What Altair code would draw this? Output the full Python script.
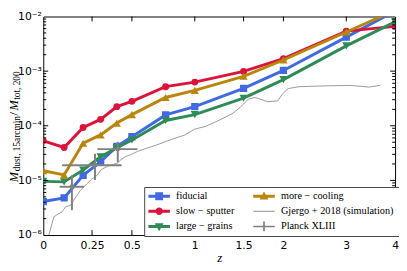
import altair as alt
import pandas as pd

# ---------------- data ----------------
z = [0, 0.1, 0.2, 0.3, 0.4, 0.5, 0.75, 1, 1.5, 2, 3, 4]
fiducial = [4.1e-6, 4.8e-6, 1.24e-5, 2.2e-5, 4.2e-5, 6.3e-5, 1.58e-4, 2.24e-4, 4.85e-4, 1.03e-3, 4.2e-3, 1.26e-2]
slow_sputter = [5.3e-5, 4.0e-5, 9.3e-5, 1.31e-4, 2.24e-4, 2.8e-4, 5.2e-4, 6.3e-4, 9.9e-4, 1.69e-3, 5.4e-3, 6.6e-3]
large_grains = [9.6e-6, 9.4e-6, 1.55e-5, 2.7e-5, 3.95e-5, 5.5e-5, 1.25e-4, 1.6e-4, 3.2e-4, 7.0e-4, 2.9e-3, 8.0e-3]
more_cooling = [1.5e-5, 1.26e-5, 4.8e-5, 6.8e-5, 1.12e-4, 1.6e-4, 3.3e-4, 4.45e-4, 8.05e-4, 1.6e-3, 5.2e-3, 1.3e-2]

gj_z = [0.024, 0.05, 0.074, 0.09, 0.107, 0.132, 0.149, 0.184, 0.22, 0.247, 0.276, 0.305,
        0.344, 0.375, 0.406, 0.427, 0.459, 0.492, 0.538, 0.608, 0.682, 0.785, 0.91, 0.997,
        1.105, 1.234, 1.372, 1.462, 1.556, 1.633, 1.673, 1.795, 1.924, 1.99, 2.067, 2.222,
        2.686, 3.068, 3.444, 3.669]
gj_v = [9.5e-7, 2.16e-6, 2.48e-6, 2.66e-6, 3.27e-6, 3.5e-6, 4.3e-6, 6.5e-6, 8.6e-6, 1.05e-5,
        1.21e-5, 1.59e-5, 1.82e-5, 1.95e-5, 2.1e-5, 2.4e-5, 2.75e-5, 2.96e-5, 3.39e-5, 3.9e-5,
        4.47e-5, 5.5e-5, 6.76e-5, 8.65e-5, 9.8e-5, 1.26e-4, 1.66e-4, 2.17e-4, 3.08e-4, 3.29e-4,
        3.16e-4, 2.75e-4, 2.86e-4, 3.9e-4, 4.8e-4, 5.2e-4, 5.4e-4, 5.48e-4, 5.12e-4, 5.48e-4]

pl_z = [0.14, 0.267, 0.406]
pl_zlo = [0.078, 0.09, 0.281]
pl_zhi = [0.205, 0.431, 0.538]
pl_v = [7.65e-6, 1.9e-5, 3.74e-5]
pl_vlo = [2.85e-6, 1.02e-5, 2.15e-5]
pl_vhi = [1.24e-5, 3.08e-5, 5.1e-5]

series_names = ["fiducial", "slow − sputter", "large − grains", "more − cooling"]
series_values = [fiducial, slow_sputter, large_grains, more_cooling]
series_colors = ["#4169E1", "#DC143C", "#2E8B57", "#B8860B"]
series_shapes = ["square", "circle", "triangle-down", "triangle-up"]
series_sizes = [55, 50, 70, 70]

gj_name = "Gjergo +  2018 (simulation)"
pl_name = "Planck XLIII"
gj_color = "#9a9a9a"
pl_color = "#808080"

x_tick_z = [0.25, 0.5, 1, 1.5, 2, 3]
x_label_z = [0, 0.25, 0.5, 1, 1.5, 2, 3, 4]
y_major = [1e-6, 1e-5, 1e-4, 1e-3, 1e-2]

# ---------------- scales & axes ----------------
W, H = 359, 223
xscale = alt.Scale(type="log", domain=[1, 5], nice=False)
yscale = alt.Scale(type="log", domain=[1e-6, 1e-2], nice=False)
xaxis = alt.Axis(values=[1 + v for v in x_label_z], labelExpr="format(datum.value - 1, '.2~f')",
                 ticks=False, domain=False, grid=False, labelOverlap=False, labelFlush=False,
                 labelBound=False, labelFont="DejaVu Sans", labelFontSize=11, labelColor="black",
                 labelPadding=5, title="z", titleFont="Liberation Serif", titleFontStyle="italic",
                 titleFontWeight="normal", titleFontSize=13, titlePadding=1, titleColor="black")
yaxis = alt.Axis(values=y_major,
                 labelExpr="'10' + (datum.value < 5e-6 ? '⁻⁶' : datum.value < 5e-5 ? '⁻⁵' : datum.value < 5e-4 ? '⁻⁴' : datum.value < 5e-3 ? '⁻³' : '⁻²')",
                 ticks=False, domain=False, grid=False, labelOverlap=False, labelFlush=False,
                 labelBound=False, labelFont="DejaVu Sans", labelFontSize=11, labelColor="black",
                 labelPadding=2, title=None)

X = lambda f="zp1": alt.X(f + ":Q", scale=xscale, axis=xaxis)
Y = lambda f="value": alt.Y(f + ":Q", scale=yscale, axis=yaxis)

layers = []

# model series: line then markers, in plotting order
for name, vals, col, shp, sz in zip(series_names, series_values, series_colors, series_shapes, series_sizes):
    df = pd.DataFrame({"zp1": [1 + v for v in z], "value": vals, "series": name})
    base = alt.Chart(df)
    layers.append(base.mark_line(strokeWidth=3, clip=True, color=col).encode(x=X(), y=Y(), order="zp1:Q"))
    layers.append(base.mark_point(filled=True, clip=True, opacity=1, color=col, shape=shp, size=sz)
                  .encode(x=X(), y=Y()))

# Gjergo+2018 simulation
gdf = pd.DataFrame({"zp1": [1 + v for v in gj_z], "value": gj_v})
layers.append(alt.Chart(gdf).mark_line(strokeWidth=1, clip=True, color=gj_color)
              .encode(x=X(), y=Y(), order="zp1:Q"))

# Planck XLIII
pdf = pd.DataFrame({"zp1": [1 + v for v in pl_z], "zlo": [1 + v for v in pl_zlo],
                    "zhi": [1 + v for v in pl_zhi], "value": pl_v, "vlo": pl_vlo, "vhi": pl_vhi})
pb = alt.Chart(pdf)
layers.append(pb.mark_rule(strokeWidth=2, color=pl_color).encode(x=X("zlo"), x2="zhi:Q", y=Y()))
layers.append(pb.mark_rule(strokeWidth=2, color=pl_color).encode(x=X(), y=Y("vlo"), y2="vhi:Q"))
layers.append(pb.mark_point(filled=True, opacity=1, color=pl_color, shape="circle", size=25)
              .encode(x=X(), y=Y()))

# ---------------- inward ticks ----------------
minor = [k * m for m in (1e-6, 1e-5, 1e-4, 1e-3) for k in range(2, 10)]
ymaj = pd.DataFrame({"value": y_major[1:-1]})
ymin = pd.DataFrame({"value": minor})
xmaj = pd.DataFrame({"zp1": [1 + v for v in x_tick_z]})
tk = dict(color="black", strokeWidth=1)
layers.append(alt.Chart(ymaj).mark_rule(**tk).encode(y=Y(), x=alt.value(0), x2=alt.value(5)))
layers.append(alt.Chart(ymaj).mark_rule(**tk).encode(y=Y(), x=alt.value(W), x2=alt.value(W - 5)))
layers.append(alt.Chart(ymin).mark_rule(**tk).encode(y=Y(), x=alt.value(0), x2=alt.value(3)))
layers.append(alt.Chart(ymin).mark_rule(**tk).encode(y=Y(), x=alt.value(W), x2=alt.value(W - 3)))
layers.append(alt.Chart(xmaj).mark_rule(**tk).encode(x=X(), y=alt.value(H), y2=alt.value(H - 5)))
layers.append(alt.Chart(xmaj).mark_rule(**tk).encode(x=X(), y=alt.value(0), y2=alt.value(5)))

# ---------------- legend (two columns) ----------------
# symbol size 100 -> 5 px per path unit; line drawn from -1 to 3.4 units, marker at 1.2
LINE = "M-1,-0.3H3.4V0.3H-1Z "
leg_order = ["fiducial", "slow − sputter", "large − grains", "more − cooling", gj_name, pl_name]
leg_colors = ["#4169E1", "#DC143C", "#2E8B57", "#B8860B", gj_color, pl_color]
leg_paths = [
    LINE + "M0.4,-0.8H2V0.8H0.4Z",
    LINE + "M1.95,0A0.75,0.75 0 1,1 0.45,0A0.75,0.75 0 1,1 1.95,0Z",
    LINE + "M0.3,-0.65L2.1,-0.65L1.2,0.95Z",
    LINE + "M1.2,-0.95L2.1,0.65L0.3,0.65Z",
    "M-1,-0.11H3.4V0.11H-1Z",
    "M-1,-0.17H3.4V0.17H-1Z M1.03,-1H1.37V1H1.03Z",
]
legend = alt.Legend(title=None, orient="none", legendX=103, legendY=174, columns=2,
                    labelFont="Liberation Serif", labelFontSize=10.5, labelColor="black",
                    symbolSize=100, symbolStrokeWidth=0, symbolOpacity=1, labelOffset=18,
                    rowPadding=4.5, columnPadding=18, padding=4, fillColor="white",
                    strokeColor="#444444", cornerRadius=0, labelLimit=300)
ldf = pd.DataFrame({"series": leg_order, "zp1": [100.0] * 6, "value": [1e-3] * 6})
layers.append(alt.Chart(ldf).mark_point(filled=True, clip=True).encode(
    x=X(), y=Y(),
    color=alt.Color("series:N", scale=alt.Scale(domain=leg_order, range=leg_colors), legend=legend),
    shape=alt.Shape("series:N", scale=alt.Scale(domain=leg_order, range=leg_paths), legend=legend),
))

# ---------------- y-axis title built from pieces ----------------
one = pd.DataFrame({"a": [0]})
title_pieces = [("M", "italic", 12.5, -26, 169), ("dust, 15arcmin", "normal", 9.5, -24, 158),
                ("/", "normal", 12.5, -26, 101), ("M", "italic", 12.5, -26, 96),
                ("tot, 200", "normal", 9.5, -24, 85)]
for txt, sty, fs, px, py in title_pieces:
    layers.append(alt.Chart(one).mark_text(angle=270, align="left", baseline="alphabetic",
                                           font="Liberation Serif", fontStyle=sty, fontSize=fs,
                                           color="black")
                  .encode(x=alt.value(px), y=alt.value(py), text=alt.value(txt)))

chart = alt.layer(*layers).properties(
    width=W, height=H,
    autosize=alt.AutoSizeParams(type="none"),
    padding={"left": 36, "top": 6, "right": 4, "bottom": 34},
).resolve_scale(color="independent", shape="independent").configure_view(stroke="black", strokeWidth=1)

chart.save("out.html", embed_options={"renderer": "svg", "actions": False})
